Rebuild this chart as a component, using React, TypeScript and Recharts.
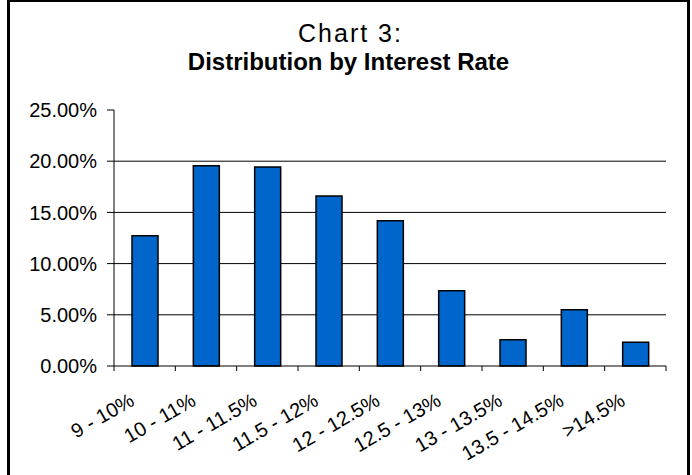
import { BarChart, Bar, XAxis, YAxis, CartesianGrid } from 'recharts';

const categories = ['9 - 10%', '10 - 11%', '11 - 11.5%', '11.5 - 12%', '12 - 12.5%', '12.5 - 13%', '13 - 13.5%', '13.5 - 14.5%', '>14.5%'];
const shares = [12.72, 19.56, 19.43, 16.6, 14.19, 7.36, 2.57, 5.5, 2.31];
const yTicks = [0, 5, 10, 15, 20, 25];

const data = categories.map((c, i) => ({ range: c, share: shares[i] }));

const FONT = "'Liberation Sans', Arial, Helvetica, sans-serif";

function XTick(props: any) {
  const { x, y, payload, index, visibleTicksCount, width } = props;
  const half = payload?.offset ?? width / (2 * visibleTicksCount);
  const ax = x - 16;
  const ay = y + 26;
  return (
    <g>
      <line x1={x - half} x2={x - half} y1={y} y2={y + 5} stroke="#000" />
      {index === visibleTicksCount - 1 && (
        <line x1={x + half} x2={x + half} y1={y} y2={y + 5} stroke="#000" />
      )}
      <text
        x={ax}
        y={ay}
        dy="0.71em"
        textAnchor="end"
        transform={`rotate(-30 ${ax} ${ay})`}
        fontSize={20}
        fontFamily={FONT}
        fill="#000"
      >
        {payload.value}
      </text>
    </g>
  );
}

export default function App() {
  return (
    <div style={{ position: 'relative', width: 692, height: 475, overflow: 'hidden', background: '#fff' }}>
      <style>{'body{margin:0}'}</style>
      {/* 枠 */}
      <div style={{ position: 'absolute', left: 7, top: -1, width: 683, height: 490, border: '3px solid #000', boxSizing: 'border-box' }} />
      {/* タイトル */}
      <div style={{ position: 'absolute', left: 9, width: 683, top: 18, textAlign: 'center', fontFamily: FONT, fontSize: 25, letterSpacing: 2, lineHeight: '30px', color: '#000' }}>
        Chart 3:
      </div>
      <div style={{ position: 'absolute', left: 7, width: 683, top: 47, textAlign: 'center', fontFamily: FONT, fontSize: 24, fontWeight: 'bold', lineHeight: '30px', color: '#000' }}>
        Distribution by Interest Rate
      </div>
      <div style={{ position: 'absolute', left: 0, top: 0 }}>
        <BarChart width={692} height={475} data={data} margin={{ top: 110, right: 26, bottom: 9, left: 0 }}>
          <CartesianGrid horizontal vertical={false} horizontalValues={[5, 10, 15, 20]} stroke="#000" strokeDasharray="" />
          <XAxis
            dataKey="range"
            type="category"
            height={100}
            tickLine={false}
            tickSize={0}
            tickMargin={0}
            interval={0}
            axisLine={{ stroke: '#000' }}
            tick={<XTick />}
          />
          <XAxis xAxisId="top" dataKey="range" orientation="top" height={0} tick={false} tickLine={false} axisLine={{ stroke: '#808080' }} />
          <YAxis
            domain={[0, 25]}
            ticks={yTicks}
            width={114}
            tickSize={7}
            tickMargin={10}
            tickLine={{ stroke: '#000' }}
            axisLine={{ stroke: '#000' }}
            tickFormatter={(v: number) => `${v.toFixed(2)}%`}
            tick={{ fontSize: 20, fontFamily: FONT, fill: '#000' }}
          />
          <YAxis yAxisId="right" orientation="right" width={0} tick={false} tickLine={false} axisLine={{ stroke: '#808080' }} />
          <Bar dataKey="share" fill="#0066CC" stroke="#000" strokeWidth={1.5} barSize={26} isAnimationActive={false} />
        </BarChart>
      </div>
    </div>
  );
}
